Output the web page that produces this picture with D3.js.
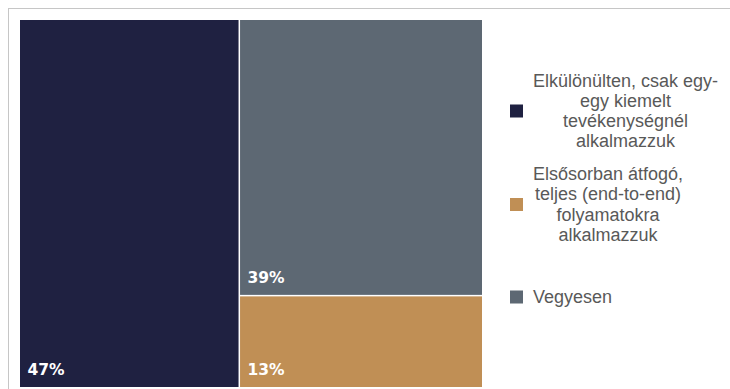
<!DOCTYPE html>
<html>
<head>
<meta charset="utf-8">
<script src="https://cdn.jsdelivr.net/npm/d3@7"></script>
<style>
  html, body { margin: 0; padding: 0; background: #ffffff; }
  svg { display: block; }
</style>
</head>
<body>
<svg id="chart" width="730" height="389"></svg>
<script>
// ---- data ----
const categories = [
  "Elkülönülten, csak egy-|egy kiemelt|tevékenységnél|alkalmazzuk",
  "Elsősorban átfogó,|teljes (end-to-end)|folyamatokra|alkalmazzuk",
  "Vegyesen"
];
const values = [47, 13, 39];
const labels = ["47%", "13%", "39%"];
const colors = ["#1f2141", "#c08f55", "#5d6873"];

// ---- layout ----
const svg = d3.select("#chart");
const W = 730, H = 389;

// outer frame
svg.append("rect")
  .attr("x", 8.5).attr("y", 8.5)
  .attr("width", W + 10).attr("height", H + 10)
  .attr("fill", "none").attr("stroke", "#c6c6c6").attr("stroke-width", 1);

const tmX = 20, tmY = 20, tmW = 462, tmH = 367;

const root = d3.hierarchy({
  children: categories.map((c, i) => ({ name: c, value: values[i], label: labels[i], color: colors[i] }))
}).sum(d => d.value || 0).sort((a, b) => b.value - a.value);

d3.treemap().size([tmW, tmH]).paddingInner(1.5).tile(d3.treemapSquarify.ratio(1))(root);

const g = svg.append("g").attr("transform", `translate(${tmX},${tmY})`);
const cell = g.selectAll("g.cell").data(root.leaves()).join("g").attr("class", "cell");
cell.append("rect")
  .attr("x", d => d.x0).attr("y", d => d.y0)
  .attr("width", d => d.x1 - d.x0).attr("height", d => d.y1 - d.y0)
  .attr("fill", d => d.data.color);
cell.append("text")
  .attr("x", d => d.x0 + 7.5).attr("y", d => d.y1 - 12)
  .attr("fill", "#ffffff")
  .attr("font-family", "'DejaVu Sans', sans-serif")
  .attr("font-weight", "bold")
  .attr("font-size", "15.5px")
  .text(d => d.data.label);

// ---- legend ----
const legendX = 510, textX = 533, lineH = 20.3;
const legendCenters = [111, 204.5, 297];
const lg = svg.append("g");
categories.forEach((c, i) => {
  const lines = c.split("|");
  const cy = legendCenters[i];
  lg.append("rect")
    .attr("x", legendX).attr("y", cy - 6.5)
    .attr("width", 13).attr("height", 13)
    .attr("fill", colors[i]);
  const t = lg.append("text")
    .attr("font-family", "'Liberation Sans', Arial, sans-serif")
    .attr("font-size", "18px")
    .attr("fill", "#595959");
  const firstBase = cy - (lines.length - 1) * lineH / 2 + 6;
  const spans = lines.map((ln, k) => t.append("tspan")
    .attr("y", firstBase + k * lineH)
    .text(ln));
  const maxW = d3.max(spans, s => s.node().getComputedTextLength());
  if (lines.length > 1) {
    spans.forEach(s => s.attr("x", textX + maxW / 2).attr("text-anchor", "middle"));
  } else {
    spans.forEach(s => s.attr("x", textX));
  }
});
</script>
</body>
</html>
